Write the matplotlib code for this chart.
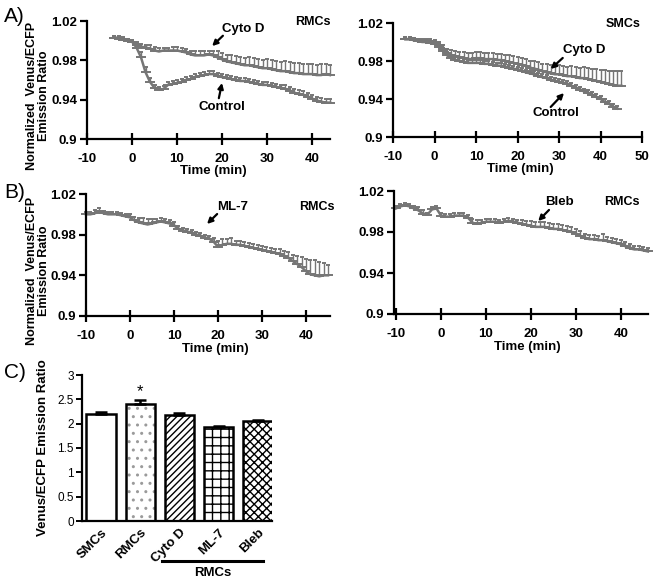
import numpy as np
import matplotlib
matplotlib.use("Agg")
import matplotlib.pyplot as plt

plt.rcParams['font.family'] = ['Liberation Sans', 'DejaVu Sans']
plt.rcParams['hatch.linewidth'] = 1.0

W, H = 657, 583

# ---------------- data ----------------
# Panel A left (RMCs)
t_rmc_a = list(range(-4, 45))
rmc_cytod = [1.003, 1.003, 1.002, 1.000, 0.999, 0.996, 0.994, 0.993, 0.992, 0.990,
             0.989, 0.990, 0.990, 0.990, 0.990, 0.989, 0.988, 0.986, 0.985, 0.985,
             0.985, 0.986, 0.985, 0.983, 0.981, 0.979, 0.978, 0.977, 0.976, 0.975,
             0.975, 0.974, 0.973, 0.972, 0.972, 0.971, 0.970, 0.969, 0.969, 0.968,
             0.967, 0.967, 0.966, 0.966, 0.966, 0.965, 0.965, 0.966, 0.965]
rmc_cytod_err = [0.002, 0.002, 0.002, 0.002, 0.002, 0.003, 0.003, 0.003, 0.004, 0.004,
                 0.004, 0.003, 0.003, 0.004, 0.004, 0.004, 0.004, 0.004, 0.004, 0.005,
                 0.005, 0.004, 0.005, 0.006, 0.006, 0.006, 0.007, 0.007, 0.007, 0.007,
                 0.008, 0.008, 0.008, 0.008, 0.009, 0.009, 0.009, 0.009, 0.010, 0.010,
                 0.010, 0.010, 0.010, 0.010, 0.010, 0.010, 0.011, 0.010, 0.010]
rmc_control = [1.003, 1.002, 1.001, 1.000, 0.999, 0.993, 0.983, 0.968, 0.958, 0.952,
               0.950, 0.951, 0.955, 0.956, 0.957, 0.958, 0.960, 0.961, 0.963, 0.964,
               0.965, 0.966, 0.966, 0.964, 0.963, 0.962, 0.961, 0.960, 0.959, 0.959,
               0.958, 0.957, 0.956, 0.955, 0.955, 0.954, 0.953, 0.952, 0.951, 0.949,
               0.947, 0.946, 0.945, 0.943, 0.941, 0.939, 0.938, 0.937, 0.937]
rmc_control_err = [0.002, 0.002, 0.002, 0.002, 0.002, 0.004, 0.005, 0.005, 0.004, 0.003,
                   0.003, 0.003, 0.003, 0.003, 0.003, 0.003, 0.003, 0.003, 0.003, 0.003,
                   0.003, 0.003, 0.003, 0.003, 0.003, 0.003, 0.003, 0.003, 0.003, 0.003,
                   0.003, 0.003, 0.003, 0.003, 0.003, 0.003, 0.003, 0.003, 0.004, 0.004,
                   0.004, 0.004, 0.004, 0.004, 0.004, 0.004, 0.004, 0.004, 0.004]

# Panel A right (SMCs)
t_smc_cytod = list(range(-7, 46))
smc_cytod = [1.003, 1.003, 1.002, 1.001, 1.001, 1.001, 1.001, 1.000, 0.997, 0.993,
             0.988, 0.986, 0.985, 0.984, 0.983, 0.982, 0.982, 0.983, 0.983, 0.982,
             0.982, 0.982, 0.981, 0.981, 0.980, 0.979, 0.978, 0.977, 0.976, 0.975,
             0.973, 0.972, 0.971, 0.969, 0.968, 0.967, 0.966, 0.966, 0.965, 0.964,
             0.964, 0.963, 0.962, 0.962, 0.961, 0.960, 0.959, 0.958, 0.957, 0.956,
             0.955, 0.954, 0.954]
smc_cytod_err = [0.002, 0.002, 0.002, 0.002, 0.002, 0.002, 0.002, 0.002, 0.003, 0.004,
                 0.005, 0.006, 0.006, 0.006, 0.006, 0.006, 0.006, 0.006, 0.006, 0.006,
                 0.006, 0.006, 0.006, 0.006, 0.006, 0.007, 0.007, 0.007, 0.007, 0.007,
                 0.007, 0.008, 0.008, 0.008, 0.009, 0.009, 0.009, 0.010, 0.010, 0.010,
                 0.011, 0.011, 0.011, 0.012, 0.012, 0.012, 0.013, 0.013, 0.014, 0.014,
                 0.015, 0.015, 0.016]
t_smc_control = list(range(-7, 45))
smc_control = [1.003, 1.003, 1.002, 1.001, 1.000, 1.000, 0.999, 0.998, 0.995, 0.991,
               0.986, 0.983, 0.981, 0.980, 0.979, 0.978, 0.978, 0.978, 0.978, 0.977,
               0.977, 0.976, 0.975, 0.975, 0.974, 0.973, 0.972, 0.971, 0.970, 0.968,
               0.967, 0.966, 0.964, 0.963, 0.962, 0.960, 0.959, 0.958, 0.957, 0.956,
               0.954, 0.952, 0.950, 0.948, 0.946, 0.944, 0.942, 0.940, 0.937, 0.935,
               0.932, 0.930]
smc_control_err = [0.002] * 8 + [0.003] * 44

# Panel B left (ML-7, RMCs)
t_ml7 = list(range(-10, 46))
ml7 = [1.000, 1.000, 1.001, 1.003, 1.001, 1.000, 1.000, 1.000, 0.999, 0.998,
       0.997, 0.994, 0.992, 0.991, 0.990, 0.991, 0.992, 0.993, 0.992, 0.991,
       0.989, 0.986, 0.984, 0.983, 0.982, 0.980, 0.979, 0.977, 0.976, 0.973,
       0.968, 0.970, 0.971, 0.971, 0.970, 0.970, 0.969, 0.968, 0.967, 0.966,
       0.965, 0.964, 0.963, 0.962, 0.961, 0.959, 0.957, 0.954, 0.951, 0.948,
       0.944, 0.941, 0.940, 0.939, 0.940, 0.940]
ml7_err = [0.002, 0.002, 0.003, 0.003, 0.002, 0.002, 0.002, 0.002, 0.002, 0.002,
           0.003, 0.003, 0.004, 0.005, 0.005, 0.004, 0.003, 0.003, 0.003, 0.003,
           0.003, 0.003, 0.003, 0.003, 0.003, 0.003, 0.003, 0.003, 0.003, 0.004,
           0.006, 0.006, 0.005, 0.006, 0.004, 0.004, 0.004, 0.004, 0.004, 0.004,
           0.004, 0.004, 0.004, 0.004, 0.005, 0.005, 0.006, 0.006, 0.008, 0.010,
           0.012, 0.014, 0.015, 0.014, 0.012, 0.010]

# Panel B right (Bleb, RMCs)
t_bleb = list(range(-10, 47))
bleb = [1.003, 1.005, 1.006, 1.005, 1.003, 1.001, 0.998, 0.997, 1.002, 1.003,
        0.996, 0.995, 0.995, 0.996, 0.996, 0.996, 0.994, 0.989, 0.988, 0.989,
        0.990, 0.990, 0.990, 0.989, 0.990, 0.991, 0.990, 0.989, 0.988, 0.987,
        0.986, 0.985, 0.985, 0.985, 0.984, 0.983, 0.983, 0.982, 0.981, 0.980,
        0.978, 0.976, 0.974, 0.973, 0.973, 0.972, 0.972, 0.971, 0.970, 0.969,
        0.968, 0.966, 0.964, 0.963, 0.963, 0.962, 0.961]
bleb_err = [0.002, 0.002, 0.002, 0.002, 0.002, 0.003, 0.003, 0.002, 0.002, 0.002,
            0.003, 0.003, 0.003, 0.003, 0.003, 0.003, 0.003, 0.004, 0.004, 0.003,
            0.003, 0.003, 0.003, 0.003, 0.003, 0.003, 0.003, 0.003, 0.004, 0.004,
            0.005, 0.005, 0.005, 0.005, 0.005, 0.005, 0.005, 0.005, 0.005, 0.005,
            0.005, 0.005, 0.004, 0.004, 0.004, 0.004, 0.006, 0.004, 0.004, 0.004,
            0.004, 0.004, 0.004, 0.003, 0.003, 0.003, 0.003]

# Panel C (bars)
bar_labels = ['SMCs', 'RMCs', 'Cyto D', 'ML-7', 'Bleb']
bar_values = [2.20, 2.40, 2.18, 1.93, 2.05]
bar_errors = [0.04, 0.08, 0.04, 0.02, 0.02]
bar_hatches = ['', '..', '/////', '++', 'xxxx']
bar_hatch_colors = ['black', '#9a9a9a', 'black', 'black', 'black']

# ---------------- drawing ----------------
GREY = '#767676'
fig = plt.figure(figsize=(W / 100, H / 100), dpi=100)


def add_ax(x0, x1, ytop, ybot):
    return fig.add_axes([x0 / W, 1 - ybot / H, (x1 - x0) / W, (ybot - ytop) / H])


def ftext(x, y, s, **kw):
    fig.text(x / W, 1 - y / H, s, **kw)


def style_ts(ax, xlim, xticks):
    ax.set_xlim(*xlim)
    ax.set_ylim(0.9, 1.02)
    ax.set_yticks([0.9, 0.94, 0.98, 1.02])
    ax.set_yticklabels(['0.9', '0.94', '0.98', '1.02'])
    ax.set_xticks(xticks)
    ax.set_xticklabels([str(v) for v in xticks])
    for s in ['top', 'right']:
        ax.spines[s].set_visible(False)
    for s in ['left', 'bottom']:
        ax.spines[s].set_linewidth(1.6)
    ax.tick_params(axis='x', direction='inout', length=8, width=1.6, pad=6,
                   labelsize=9.5)
    ax.tick_params(axis='y', direction='out', length=5, width=1.6, pad=2,
                   labelsize=9.5)
    for lab in ax.get_xticklabels() + ax.get_yticklabels():
        lab.set_fontweight('bold')
    ax.patch.set_alpha(0)


def series(ax, t, v, e):
    ax.errorbar(t, v, yerr=[np.zeros(len(e)), e], fmt='-', color=GREY, lw=1.8,
                marker='_', ms=7, mew=1.4, ecolor=GREY, elinewidth=1.0,
                capsize=1.5, capthick=1.0, clip_on=False)


def arrow(ax, text, tx, ty, tail, tip):
    ax.text(tx, ty, text, ha='center', va='center', fontsize=9.5,
            fontweight='bold')
    ax.annotate('', xy=tip, xytext=tail,
                arrowprops=dict(arrowstyle='-|>', color='black', lw=1.6,
                                mutation_scale=8, shrinkA=0, shrinkB=0))


# A left
axA1 = add_ax(87, 330, 21, 139)
style_ts(axA1, (-10, 44), [-10, 0, 10, 20, 30, 40])
series(axA1, t_rmc_a, rmc_cytod, rmc_cytod_err)
series(axA1, t_rmc_a, rmc_control, rmc_control_err)
arrow(axA1, 'Cyto D', 24.7, 1.0115, (20.2, 1.005), (17.8, 0.9945))
arrow(axA1, 'Control', 20.0, 0.9325, (19.3, 0.9415), (20.0, 0.957))
axA1.text(40.2, 1.019, 'RMCs', ha='center', va='center', fontsize=9,
          fontweight='bold')

# A right
axA2 = add_ax(393, 642, 23, 137)
style_ts(axA2, (-10, 50), [-10, 0, 10, 20, 30, 40, 50])
series(axA2, t_smc_control, smc_control, smc_control_err)
series(axA2, t_smc_cytod, smc_cytod, smc_cytod_err)
arrow(axA2, 'Cyto D', 36.0, 0.9916, (30.9, 0.9832), (28.0, 0.9716))
arrow(axA2, 'Control', 29.2, 0.9253, (28.0, 0.9316), (31.2, 0.9463))
axA2.text(45.4, 1.019, 'SMCs', ha='center', va='center', fontsize=9,
          fontweight='bold')

# B left
axB1 = add_ax(86, 330, 194, 316)
style_ts(axB1, (-10, 45.45), [-10, 0, 10, 20, 30, 40])
series(axB1, t_ml7, ml7, ml7_err)
arrow(axB1, 'ML-7', 23.4, 1.0072, (19.8, 1.0003), (17.5, 0.9905))
axB1.text(42.5, 1.0072, 'RMCs', ha='center', va='center', fontsize=9,
          fontweight='bold')

# B right
axB2 = add_ax(394, 648, 191, 314)
style_ts(axB2, (-10.44, 46.0), [-10, 0, 10, 20, 30, 40])
series(axB2, t_bleb, bleb, bleb_err)
arrow(axB2, 'Bleb', 26.4, 1.0093, (24.0, 1.0015), (21.6, 0.9907))
axB2.text(40.2, 1.0093, 'RMCs', ha='center', va='center', fontsize=9,
          fontweight='bold')

# time labels
ftext(213, 171, 'Time (min)', ha='center', va='center', fontsize=9.5,
      fontweight='bold')
ftext(520, 169, 'Time (min)', ha='center', va='center', fontsize=9.5,
      fontweight='bold')
ftext(215, 349, 'Time (min)', ha='center', va='center', fontsize=9.5,
      fontweight='bold')
ftext(527, 347, 'Time (min)', ha='center', va='center', fontsize=9.5,
      fontweight='bold')

# y labels
for yc in (96, 271):
    ftext(38, yc, 'Normalized  Venus/ECFP\nEmission Ratio', rotation=90,
          ha='center', va='center', fontsize=9, fontweight='bold',
          multialignment='center', linespacing=1.0)

# panel letters
ftext(4, 17, 'A)', ha='left', va='center', fontsize=15)
ftext(4, 192, 'B)', ha='left', va='center', fontsize=15)
ftext(4, 372, 'C)', ha='left', va='center', fontsize=15)

# C bars
axC = add_ax(82, 272, 375, 521)
pos = np.arange(len(bar_labels))
for i in range(len(bar_labels)):
    # hatch layer
    axC.bar(pos[i], bar_values[i], width=0.75, color='white',
            edgecolor=bar_hatch_colors[i], linewidth=0, hatch=bar_hatches[i],
            zorder=2)
    # outline layer
    axC.bar(pos[i], bar_values[i], width=0.75, fill=False, edgecolor='black',
            linewidth=1.8, zorder=2.5)
axC.errorbar(pos, bar_values, yerr=[np.zeros(len(bar_errors)), bar_errors],
             fmt='none', ecolor='black', elinewidth=1.8, capsize=4, capthick=1.8,
             zorder=3)
axC.text(1, 2.65, '*', ha='center', va='center', fontsize=12)
axC.set_xlim(-0.484, 4.357)
axC.set_ylim(0, 3)
axC.set_yticks([0, 0.5, 1, 1.5, 2, 2.5, 3])
axC.set_yticklabels(['0', '0.5', '1', '1.5', '2', '2.5', '3'])
axC.set_xticks(pos)
axC.set_xticklabels(bar_labels, rotation=45, ha='right', rotation_mode='anchor',
                    fontweight='bold', fontsize=9.5)
for s in ['top', 'right']:
    axC.spines[s].set_visible(False)
for s in ['left', 'bottom']:
    axC.spines[s].set_linewidth(1.6)
axC.tick_params(axis='x', length=0, pad=4)
axC.tick_params(axis='y', direction='out', length=4, width=1.4, pad=2,
                labelsize=8.5)
axC.set_ylabel('Venus/ECFP Emission Ratio', fontsize=9.5, fontweight='bold',
               labelpad=6)

# bracket line under RMCs treatments
fig.add_artist(plt.Line2D([162 / W, 263 / W], [1 - 561 / H, 1 - 561 / H],
                          color='black', lw=2.2))
ftext(213, 573, 'RMCs', ha='center', va='center', fontsize=9.5,
      fontweight='bold')

fig.savefig('out.png', dpi=100)
